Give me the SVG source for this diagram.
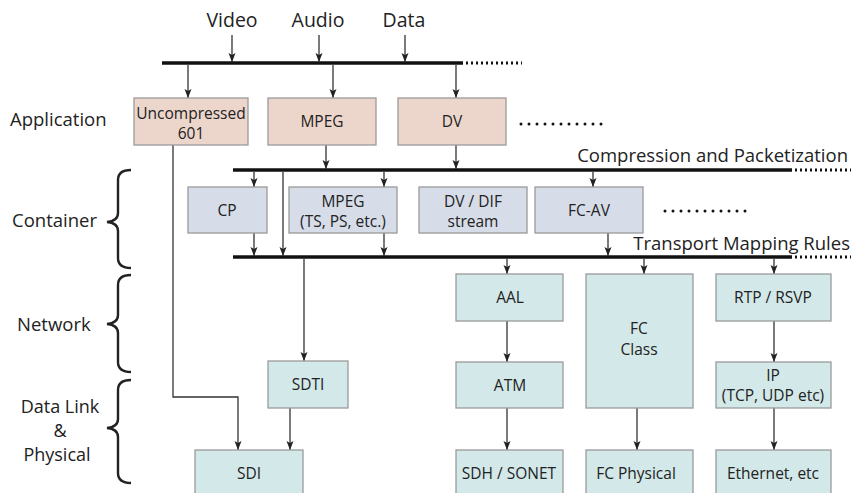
<svg xmlns="http://www.w3.org/2000/svg" width="853" height="493" viewBox="0 0 853 493">
<defs>
<marker id="ah" markerUnits="userSpaceOnUse" markerWidth="10" markerHeight="10" refX="9" refY="4" orient="auto">
<path d="M0,0.5 L9,4 L0,7.5 L2,4 z" fill="#222"/>
</marker>
<style>
text{font-family:"Open Sans","Noto Sans","DejaVu Sans",sans-serif;fill:#222}
.lbl{font-size:18.5px}
.dl{font-size:18px;text-anchor:middle}
.top{font-size:19.5px;text-anchor:middle}
.bt{font-size:15.5px;text-anchor:middle}
.app{fill:#ecd6cc;stroke:#9a9a9a;stroke-width:1.3}
.con{fill:#d6dce8;stroke:#9a9a9a;stroke-width:1.3}
.net{fill:#d3e8e8;stroke:#9a9a9a;stroke-width:1.3}
.bar{stroke:#111;stroke-width:3.5}
.dash{stroke:#111;stroke-width:3;stroke-dasharray:2 3}
.dots{stroke:#111;stroke-width:3;stroke-dasharray:0 8;stroke-linecap:round}
.c{stroke:#333;stroke-width:1.3;fill:none}
.a{marker-end:url(#ah)}
.brace{stroke:#222;stroke-width:2.4;fill:none}
</style>
</defs>
<rect width="853" height="493" fill="#fff"/>

<g id="labels">
<text class="top" x="232" y="27">Video</text>
<text class="top" x="318" y="27">Audio</text>
<text class="top" x="404" y="27">Data</text>
<text class="lbl" x="10" y="126">Application</text>
<text class="lbl" x="12" y="227">Container</text>
<text class="lbl" x="17" y="331">Network</text>
<text class="dl" x="60" y="413">Data Link</text>
<text class="dl" x="60" y="437">&amp;</text>
<text class="dl" x="57" y="461">Physical</text>
<text class="lbl" x="848" y="162" text-anchor="end">Compression and Packetization</text>
<text class="lbl" x="850" y="250" text-anchor="end">Transport Mapping Rules</text>
</g>

<g id="braces">
<path class="brace" d="M131,170 Q118,170 118,180 L118,213 Q118,221 107,222 Q118,223 118,231 L118,258 Q118,268 131,268"/>
<path class="brace" d="M131,275 Q118,275 118,285 L118,315 Q118,323 107,324 Q118,325 118,333 L118,362 Q118,372 131,372"/>
<path class="brace" d="M131,380 Q118,380 118,390 L118,419 Q118,427 107,428 Q118,429 118,437 L118,473 Q118,483 131,483"/>
</g>

<g id="buses">
<line class="bar" x1="162" y1="63" x2="463" y2="63"/>
<line class="dash" x1="466" y1="63" x2="522" y2="63"/>
<line class="bar" x1="233" y1="170" x2="792" y2="170"/>
<line class="dash" x1="795" y1="170" x2="851" y2="170"/>
<line class="bar" x1="233" y1="257" x2="792" y2="257"/>
<line class="dash" x1="795" y1="257" x2="851" y2="257"/>
<line class="dots" x1="521" y1="124" x2="602" y2="124"/>
<line class="dots" x1="665" y1="211" x2="746" y2="211"/>
</g>

<g id="connectors">
<line class="c a" x1="232" y1="35" x2="232" y2="62"/>
<line class="c a" x1="319" y1="35" x2="319" y2="62"/>
<line class="c a" x1="405" y1="35" x2="405" y2="62"/>
<line class="c a" x1="188" y1="65" x2="188" y2="98"/>
<line class="c a" x1="333" y1="65" x2="333" y2="98"/>
<line class="c a" x1="456" y1="65" x2="456" y2="98"/>
<line class="c a" x1="326" y1="145" x2="326" y2="169"/>
<line class="c a" x1="456" y1="145" x2="456" y2="169"/>
<line class="c a" x1="254" y1="172" x2="254" y2="187"/>
<line class="c a" x1="384" y1="172" x2="384" y2="187"/>
<line class="c a" x1="593" y1="172" x2="593" y2="187"/>
<line class="c a" x1="283" y1="172" x2="283" y2="256"/>
<line class="c a" x1="254" y1="233" x2="254" y2="256"/>
<line class="c a" x1="384" y1="233" x2="384" y2="256"/>
<line class="c a" x1="608" y1="233" x2="608" y2="256"/>
<polyline class="c a" points="173,145 173,397 238,397 238,450"/>
<line class="c a" x1="304" y1="259" x2="304" y2="361"/>
<line class="c a" x1="290" y1="408" x2="290" y2="450"/>
<line class="c a" x1="507" y1="259" x2="507" y2="274"/>
<line class="c a" x1="644" y1="259" x2="644" y2="274"/>
<line class="c a" x1="774" y1="259" x2="774" y2="274"/>
<line class="c a" x1="507" y1="321" x2="507" y2="362"/>
<line class="c a" x1="507" y1="408" x2="507" y2="450"/>
<line class="c a" x1="637" y1="408" x2="637" y2="450"/>
<line class="c a" x1="774" y1="321" x2="774" y2="362"/>
<line class="c a" x1="774" y1="408" x2="774" y2="450"/>
</g>

<g id="n-uncompressed"><rect class="app" x="134" y="98" width="114" height="47"/><text class="bt" x="191" y="119">Uncompressed</text><text class="bt" x="191" y="139">601</text></g>
<g id="n-mpeg"><rect class="app" x="268" y="98" width="108" height="47"/><text class="bt" x="322" y="127">MPEG</text></g>
<g id="n-dv"><rect class="app" x="398" y="98" width="108" height="47"/><text class="bt" x="452" y="127">DV</text></g>

<g id="n-cp"><rect class="con" x="188" y="187" width="79" height="46"/><text class="bt" x="227" y="216">CP</text></g>
<g id="n-mpegts"><rect class="con" x="289" y="187" width="108" height="46"/><text class="bt" x="343" y="207">MPEG</text><text class="bt" x="343" y="227">(TS, PS, etc.)</text></g>
<g id="n-dvdif"><rect class="con" x="419" y="187" width="108" height="46"/><text class="bt" x="473" y="207">DV / DIF</text><text class="bt" x="473" y="227">stream</text></g>
<g id="n-fcav"><rect class="con" x="535" y="187" width="108" height="46"/><text class="bt" x="589" y="216">FC-AV</text></g>

<g id="n-aal"><rect class="net" x="456" y="274" width="107" height="47"/><text class="bt" x="510" y="303">AAL</text></g>
<g id="n-fcclass"><rect class="net" x="586" y="274" width="107" height="134"/><text class="bt" x="639" y="334">FC</text><text class="bt" x="639" y="355">Class</text></g>
<g id="n-rtp"><rect class="net" x="716" y="274" width="115" height="47"/><text class="bt" x="773" y="303">RTP / RSVP</text></g>
<g id="n-sdti"><rect class="net" x="268" y="361" width="80" height="47"/><text class="bt" x="308" y="390">SDTI</text></g>
<g id="n-atm"><rect class="net" x="456" y="362" width="107" height="46"/><text class="bt" x="510" y="391">ATM</text></g>
<g id="n-ip"><rect class="net" x="716" y="362" width="115" height="46"/><text class="bt" x="773" y="381">IP</text><text class="bt" x="773" y="401">(TCP, UDP etc)</text></g>
<g id="n-sdi"><rect class="net" x="195" y="450" width="108" height="50"/><text class="bt" x="249" y="479">SDI</text></g>
<g id="n-sdh"><rect class="net" x="456" y="450" width="107" height="50"/><text class="bt" x="509" y="479">SDH / SONET</text></g>
<g id="n-fcphys"><rect class="net" x="586" y="450" width="107" height="50"/><text class="bt" x="636" y="479">FC Physical</text></g>
<g id="n-eth"><rect class="net" x="716" y="450" width="115" height="50"/><text class="bt" x="773" y="479">Ethernet, etc</text></g>
</svg>
